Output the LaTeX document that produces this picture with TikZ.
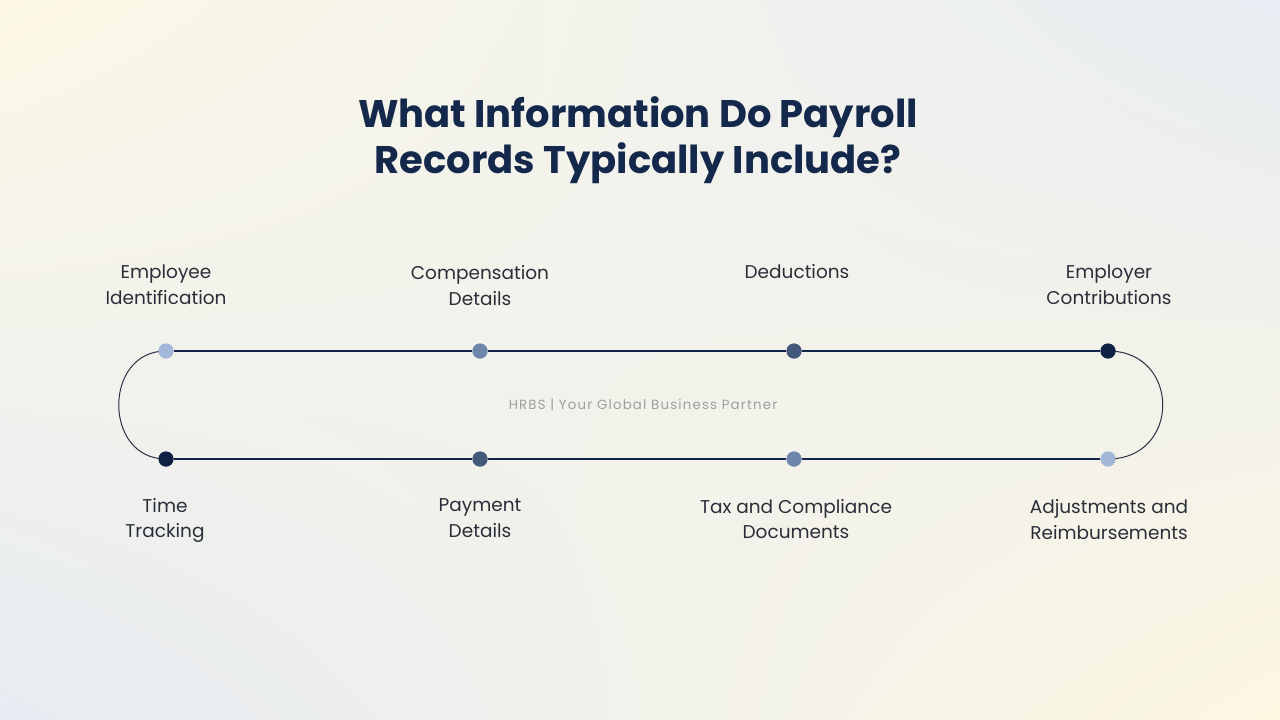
\documentclass[tikz,border=0pt]{standalone}
\usepackage{fontspec}
\usetikzlibrary{shadings}
\setmainfont{Poppins}
\newfontfamily\tagfont[LetterSpace=9]{Poppins}
\definecolor{bgTL}{HTML}{FDF8E6}
\definecolor{bgTR}{HTML}{E8EDF3}
\definecolor{bgBL}{HTML}{E7ECF3}
\definecolor{bgBR}{HTML}{FDF7E2}
\definecolor{navy}{HTML}{13284A}
\definecolor{linecol}{HTML}{13254A}
\definecolor{arccol}{HTML}{2A3142}
\definecolor{labelcol}{HTML}{2A2E38}
\definecolor{tagcol}{HTML}{A09F9C}
\definecolor{dotA}{HTML}{A3B7D9}
\definecolor{dotB}{HTML}{6F86AB}
\definecolor{dotC}{HTML}{44587C}
\definecolor{dotD}{HTML}{0F2244}
\begin{document}
\begin{tikzpicture}[x=1pt,y=-1pt,
  dot/.style={circle,inner sep=0pt,minimum size=15pt,fill=#1},
  lbl/.style={align=center,text=labelcol,font=\fontsize{18.5}{25.5}\selectfont,inner sep=0pt},
  track/.style={draw=linecol,line width=1.2pt},
  curvearc/.style={draw=arccol,line width=1pt}]
\useasboundingbox (0,0) rectangle (1280,720);
\shade[upper left=bgTL,upper right=bgTR,lower left=bgBL,lower right=bgBR] (0,0) rectangle (1280,720);
% title
\node[font=\fontsize{38.5}{46}\selectfont\bfseries,text=navy,align=center,inner sep=0pt] (title) at (638,140) {What Information Do Payroll\\Records Typically Include?};
% tag line
\node[font=\tagfont\fontsize{13.3}{15}\selectfont,text=tagcol,inner sep=0pt] (tag) at (643,405) {HRBS | Your Global Business Partner};
% dots
\node[dot=dotA] (t1) at (166,351) {};
\node[dot=dotB] (t2) at (480,351) {};
\node[dot=dotC] (t3) at (794,351) {};
\node[dot=dotD] (t4) at (1108,351) {};
\node[dot=dotD] (b1) at (166,459) {};
\node[dot=dotC] (b2) at (480,459) {};
\node[dot=dotB] (b3) at (794,459) {};
\node[dot=dotA] (b4) at (1108,459) {};
% connectors
\path[track] (t1) -- (t2) -- (t3) -- (t4);
\path[track] (b1) -- (b2) -- (b3) -- (b4);
\path[curvearc] (t1.center) .. controls +(-63,0) and +(-63,0) .. (b1.center);
\path[curvearc] (t4.center) .. controls +(73,0) and +(73,0) .. (b4.center);
% redraw dots on top
\foreach \n/\c in {t1/dotA,t2/dotB,t3/dotC,t4/dotD,b1/dotD,b2/dotC,b3/dotB,b4/dotA}{
  \fill[\c] (\n.center) circle (7.5pt);
}
% labels
\node[lbl] (l1) at (166,284.5) {Employee\\Identification};
\node[lbl] (l2) at (480,285.5) {Compensation\\Details};
\node[lbl] (l3) at (797,272) {Deductions};
\node[lbl] (l4) at (1109,284.5) {Employer\\Contributions};
\node[lbl] (l5) at (165,520.5) {Time\\Tracking};
\node[lbl] (l6) at (480,518) {Payment\\Details};
\node[lbl] (l7) at (796,519) {Tax and Compliance\\Documents};
\node[lbl] (l8) at (1109,519.5) {Adjustments and\\Reimbursements};
\end{tikzpicture}
\end{document}
